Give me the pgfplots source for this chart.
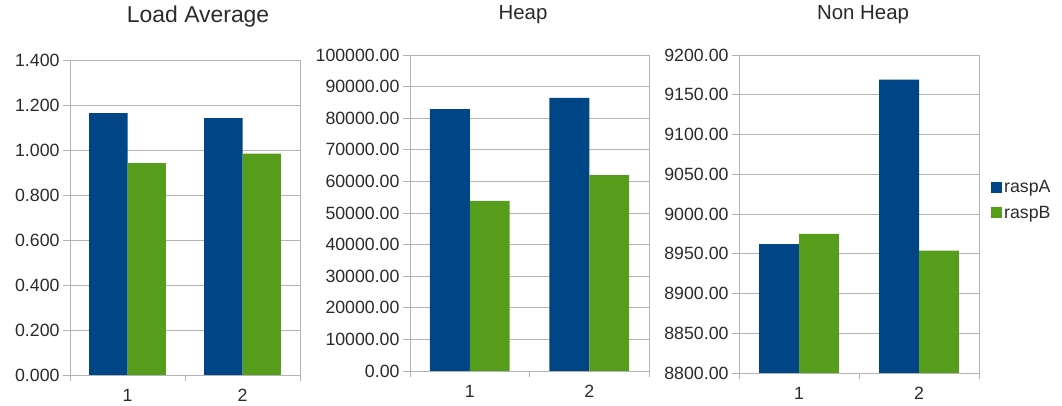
\documentclass[border=0pt]{standalone}
\usepackage{pgfplots}
\pgfplotsset{compat=1.18}
\usepackage{fontspec}
\setmainfont{Liberation Sans}
\definecolor{cA}{HTML}{004586}
\definecolor{cB}{HTML}{579D1C}
\definecolor{gridc}{HTML}{B3B3B3}
\definecolor{textc}{HTML}{2A2A2A}
\pgfplotsset{rb/.style={
  scale only axis, anchor=south west,
  ybar=0pt, bar width=0.333,
  xmin=0.5, xmax=2.5, enlargelimits=false,
  xtick={1,2}, minor xtick={0.5,1.5,2.5},
  major x tick style={draw=none},
  tick align=outside, xtick pos=bottom, ytick pos=left,
  major tick length=7bp, minor tick length=6bp,
  tick style={gridc, line width=0.8pt},
  ymajorgrids, grid style={gridc, line width=0.8pt},
  axis line style={gridc, line width=0.8pt},
  ticklabel style={font=\fontsize{17.8}{20}\selectfont, text=textc},
  xticklabel style={yshift=-4bp},
  /pgf/number format/assume math mode=true,
  title style={font=\fontsize{20.5}{24}\selectfont, text=textc, anchor=base},
  legend style={font=\fontsize{17.8}{20}\selectfont, text=textc},
}}
\begin{document}
\begin{tikzpicture}
\path (0,0) rectangle (1062bp,405bp);
% Load Average
\begin{axis}[rb, at={(70bp,30bp)}, width=230bp, height=315bp,
  ymin=0, ymax=1.4, ytick={0,0.2,0.4,0.6,0.8,1.0,1.2,1.4},
  yticklabel style={/pgf/number format/.cd, fixed, fixed zerofill, precision=3},
  title={Load Average},
  title style={at={(0.557,1)}, yshift=32bp, font=\fontsize{23}{27}\selectfont}]
\addplot[fill=cA, draw=none] coordinates {(1,1.164) (2,1.142)};
\addplot[fill=cB, draw=none] coordinates {(1,0.942) (2,0.984)};
\end{axis}
% Heap
\begin{axis}[rb, at={(410bp,34bp)}, width=239bp, height=316bp,
  ymin=0, ymax=100000, ytick={0,10000,20000,30000,40000,50000,60000,70000,80000,90000,100000},
  scaled y ticks=false,
  yticklabel style={/pgf/number format/.cd, fixed, fixed zerofill, precision=2, 1000 sep={}},
  title={Heap},
  title style={at={(0.473,1)}, yshift=30bp}]
\addplot[fill=cA, draw=none] coordinates {(1,82900) (2,86400)};
\addplot[fill=cB, draw=none] coordinates {(1,53800) (2,62000)};
\end{axis}
% Non Heap
\begin{axis}[rb, at={(739bp,32bp)}, width=240bp, height=318bp,
  ymin=8800, ymax=9200, ytick={8800,8850,8900,8950,9000,9050,9100,9150,9200},
  scaled y ticks=false,
  yticklabel style={/pgf/number format/.cd, fixed, fixed zerofill, precision=2, 1000 sep={}},
  title={Non Heap},
  title style={at={(0.517,1)}, yshift=30bp},
  legend style={at={(1.05,0.544)}, anchor=west, draw=none, fill=none, row sep=8bp,
    inner sep=0pt},
  legend cell align=left]
\addplot[fill=cA, draw=none, legend image code/.code={\fill[cA] (0bp,-5.5bp) rectangle (11bp,5.5bp);}] coordinates {(1,8962) (2,9169)};
\addplot[fill=cB, draw=none, legend image code/.code={\fill[cB] (0bp,-5.5bp) rectangle (11bp,5.5bp);}] coordinates {(1,8975) (2,8954)};
\legend{raspA, raspB}
\end{axis}
\end{tikzpicture}
\end{document}
